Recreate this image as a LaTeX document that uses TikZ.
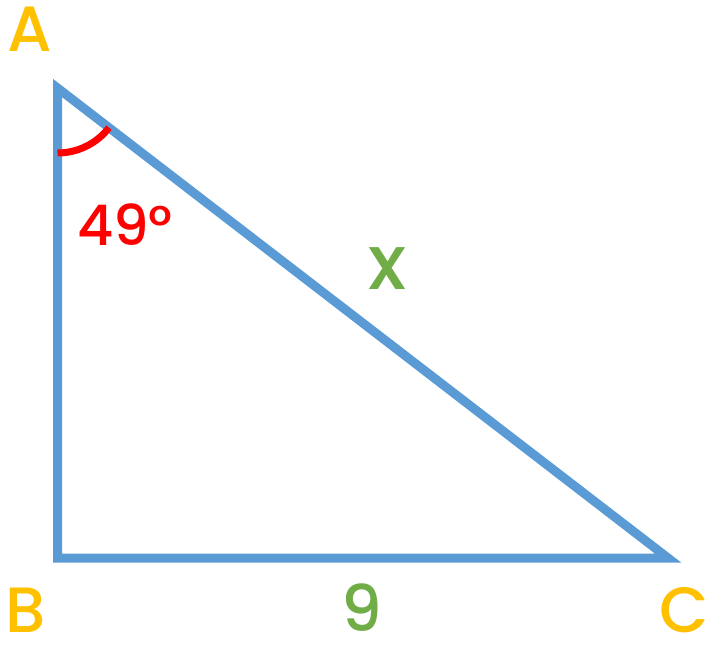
\documentclass[tikz,border=0pt]{standalone}
\usepackage{fontspec}
\setmainfont{Poppins}[UprightFont=* Medium]
\definecolor{edgeblue}{RGB}{91,155,213}
\definecolor{anglered}{RGB}{255,0,0}
\definecolor{sidegreen}{RGB}{112,173,71}
\definecolor{vertexgold}{RGB}{255,192,0}
\tikzset{
  vlabel/.style={text=vertexgold, inner sep=0pt, font=\fontsize{64}{64}\selectfont},
  slabel/.style={text=sidegreen, inner sep=0pt, font=\fontsize{64}{64}\selectfont},
  alabel/.style={text=anglered, inner sep=0pt, font=\fontsize{56}{56}\selectfont}
}

\begin{document}
\begin{tikzpicture}[x=1pt, y=1pt]
      \useasboundingbox (0,0) rectangle (710,649);
      \coordinate (A) at (57.5,561);
      \coordinate (B) at (57.5,91);
      \coordinate (C) at (668,91);
      \draw[edgeblue, line width=9pt, miter limit=10] (A) -- (B) -- (C) -- cycle;
      \draw[anglered, line width=7pt] ([shift={(-90:65)}]A) arc (-90:-37.6:65);
      \node[vlabel] (labA) at (30,620) {A};
      \node[vlabel] (labB) at (26,39) {B};
      \node[vlabel] (labC) at (684,39) {C};
      \node[slabel] (labBC) at (362,41) {9};
      \node[slabel, font=\fontsize{76}{76}\selectfont] (labAC) at (387,380) {x};
      \node[alabel] (labAng) at (125,424) {49°};
    \end{tikzpicture}
\end{document}
